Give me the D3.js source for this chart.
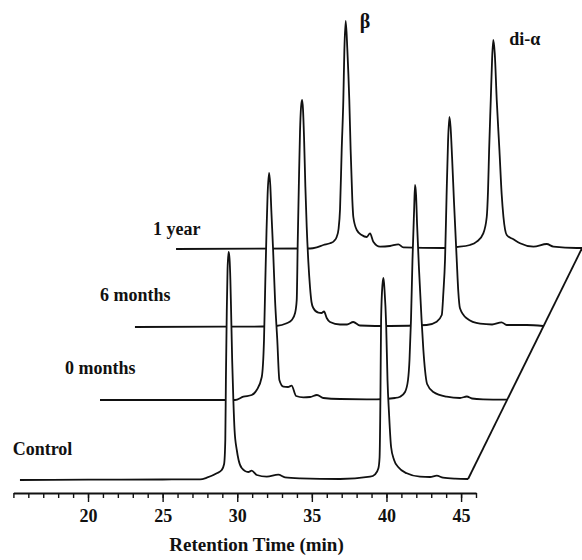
<html>
<head>
<title>Retention time chromatograms</title>
<script src="https://d3js.org/d3.v7.min.js"></script>
</head>
<style>
  body { margin: 0; background: #fff; }
  .trace { fill: none; stroke: #111; stroke-width: 1.8; stroke-linejoin: round; }
  .cover { fill: #fff; stroke: none; }
  .axis path.domain { stroke: #111; stroke-width: 2; }
  .axis line { stroke: #111; stroke-width: 1.4; }
  .axis text { font-family: "Liberation Serif", serif; font-weight: bold; font-size: 18px; fill: #111; }
  .lbl { font-family: "Liberation Serif", serif; font-weight: bold; font-size: 18px; fill: #111; }
</style>
<body>
<svg id="chart" width="582" height="560"></svg>
<script>
// retention time (min), detector signal
const control = [
  [15.44,0],[20.0,0.3],[25.0,0.5],[27.51,0.7],[27.96,2.3],[28.63,6.7],[28.96,10],[29.12,16],
  [29.20,40],[29.24,100],[29.30,170],[29.35,210],[29.42,228],[29.48,222],[29.54,200],[29.58,175],
  [29.66,120],[29.74,80],[29.82,50],[29.97,30],[30.09,20],[30.30,12],[30.74,8],[30.97,9.3],
  [31.31,5],[31.98,3.3],[32.75,5.3],[33.20,2.7],[34.21,1.7],[36.89,1],[38.90,3.3],[39.24,5.7],
  [39.46,11.7],[39.54,23],[39.60,90],[39.64,160],[39.73,195],[39.80,202],[39.87,190],[39.98,155],
  [40.07,100],[40.17,67],[40.31,33],[40.51,20],[40.80,12.7],[41.36,6.7],[42.25,3.3],[42.92,3],
  [43.37,4.3],[43.79,2.3],[44.60,1.3],[45.47,1]
];
const months0 = [
  [18.19,0],[24.0,0],[27.24,0],[27.80,3.3],[28.36,5],[28.69,10],[29.03,23],[29.18,60],
  [29.27,120],[29.35,170],[29.42,205],[29.52,227],[29.60,215],[29.67,190],[29.79,150],[29.92,100],
  [30.07,60],[30.21,20],[30.48,13.3],[30.79,13],[31.03,14.3],[31.33,4],[31.82,2.7],[32.27,3],
  [32.73,5],[33.16,2],[34.28,1],[36.74,0.7],[37.96,2],[38.30,3.3],[38.63,8],[38.83,20],
  [38.93,40],[39.03,80],[39.13,140],[39.24,190],[39.30,215],[39.37,205],[39.44,175],[39.57,130],
  [39.74,80],[39.86,50],[39.97,30],[40.11,16],[40.53,8],[41.42,3.3],[42.32,2],[42.77,3.5],
  [43.12,1.5],[43.86,0.7],[45.47,0.3]
];
const months6 = [
  [18.12,0],[24.02,0.3],[26.70,0.5],[27.57,1],[28.29,3.7],[28.63,7],[28.85,14],[28.96,27],
  [29.03,87],[29.10,140],[29.18,195],[29.25,220],[29.32,227],[29.38,218],[29.45,190],[29.54,140],
  [29.63,100],[29.74,65],[29.85,40],[29.95,25],[30.07,19],[30.41,14.3],[30.62,14],[30.79,15.5],
  [30.97,9],[31.19,5],[31.86,2.5],[32.33,2.5],[32.75,5],[33.20,1.5],[35.21,1],[37.67,2],
  [38.34,5.3],[38.68,12],[38.79,35],[38.90,68],[39.00,130],[39.10,185],[39.19,210],[39.27,200],
  [39.37,170],[39.50,125],[39.68,68],[39.79,35],[39.90,18.7],[40.35,8.7],[41.25,3.3],[42.05,2.5],
  [42.69,4.7],[43.03,2],[44.37,2],[45.47,1]
];
const year1 = [
  [18.26,0],[27.24,0.5],[27.69,1.7],[28.13,4],[28.58,5.7],[28.85,8],[29.03,12.3],[29.15,20],
  [29.25,40],[29.36,99],[29.47,149],[29.54,199],[29.63,228],[29.74,199],[29.87,149],[29.96,99],
  [30.07,50],[30.14,32],[30.37,19],[30.70,14],[31.04,12],[31.26,15.7],[31.48,7.3],[31.93,2.3],
  [32.60,3],[33.16,4.7],[33.49,1.7],[36.17,1],[37.07,2],[37.96,4],[38.41,7.3],[38.85,15.7],
  [39.08,32],[39.17,60],[39.24,99],[39.35,149],[39.44,190],[39.52,209],[39.62,195],[39.75,149],
  [39.93,99],[40.08,55],[40.20,32],[40.42,14],[40.87,9.7],[41.31,5.7],[42.21,2.3],[43.10,5],
  [43.55,2.3],[45.11,1],[45.47,1]
];
const traceNames = ["Control", "0 months", "6 months", "1 year"];
const tickLabels = [20, 25, 30, 35, 40, 45];
const peakNames = ["\u03b2", "di-\u03b1"];
const peakTimes = [29.63, 39.52];

const svg = d3.select("svg#chart");
const traces = [control, months0, months6, year1];

// each later sample is shifted up and to the right
const baseY = 480;
const shiftX = [0, 39, 75, 114];
const shiftY = [0, 80, 153, 231];

const xScale = d3.scaleLinear().domain([15, 46]).range([13.4, 476]);
const yScale = d3.scaleLinear().domain([0, 230]).range([0, 230]);

const px = (d, i) => xScale(d[0]) + shiftX[i];
const py = (d, i) => baseY - shiftY[i] - yScale(d[1]);

const plot = svg.append("g");

// back to front, so front peaks hide the lines behind them
for (let i = traces.length - 1; i >= 0; i--) {
  const area = d3.area()
    .x(d => px(d, i))
    .y0(baseY - shiftY[i])
    .y1(d => py(d, i))
    .curve(d3.curveMonotoneX);
  const line = d3.line()
    .x(d => px(d, i))
    .y(d => py(d, i))
    .curve(d3.curveMonotoneX);
  plot.append("path").attr("class", "cover").attr("d", area(traces[i]));
  plot.append("path").attr("class", "trace").attr("d", line(traces[i]));
}

// slanted line joining the trace ends
const ends = [0, traces.length - 1].map(i => [px(traces[i][traces[i].length - 1], i), py(traces[i][traces[i].length - 1], i)]);
plot.append("path").attr("class", "trace").attr("d", d3.line()(ends));

// axis: minor ticks every minute, labelled every 5
const axisG = svg.append("g").attr("class", "axis").attr("transform", "translate(0,493)");
axisG.append("g")
  .call(d3.axisBottom(xScale).tickValues(d3.range(15, 47)).tickSize(5).tickSizeOuter(0).tickFormat(""));
const major = axisG.append("g")
  .call(d3.axisBottom(xScale).tickValues(tickLabels).tickSize(9).tickSizeOuter(0).tickPadding(7));
major.select(".domain").remove();

svg.append("text")
  .attr("class", "lbl")
  .attr("text-anchor", "middle")
  .attr("x", 256.5)
  .attr("y", 551)
  .style("font-size", "19px")
  .text("Retention Time (min)");

// sample names
const labelX = [12.7, 65, 100, 153];
const labelY = [455, 374, 300.5, 235];
traceNames.forEach((name, i) => {
  svg.append("text").attr("class", "lbl").attr("x", labelX[i]).attr("y", labelY[i]).text(name);
});

// peak names next to the back trace
const peakDx = [14, 16];
const peakY = [28, 45];
peakNames.forEach((name, k) => {
  svg.append("text")
    .attr("class", "lbl")
    .attr("x", xScale(peakTimes[k]) + shiftX[3] + peakDx[k])
    .attr("y", peakY[k])
    .style("font-size", k === 0 ? "20px" : "18px")
    .text(name);
});
</script>
</body>
</html>
